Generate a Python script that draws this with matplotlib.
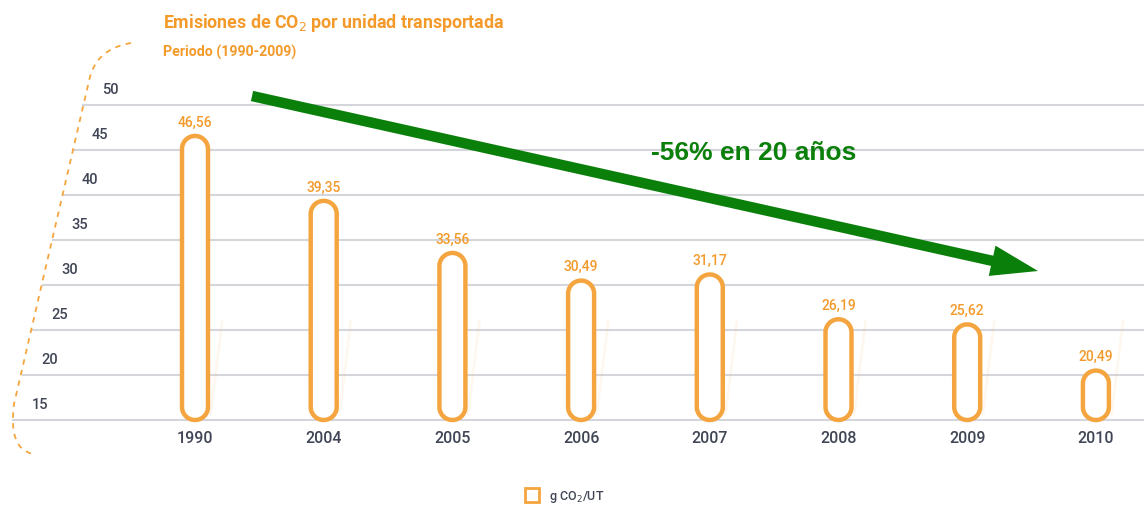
import matplotlib
matplotlib.use("Agg")
import matplotlib.pyplot as plt
from matplotlib.patches import FancyArrow, Polygon
from matplotlib.path import Path
from matplotlib.patches import PathPatch
from matplotlib.lines import Line2D
from matplotlib.transforms import blended_transform_factory
import numpy as np

# ---- data ----
years = ["1990", "2004", "2005", "2006", "2007", "2008", "2009", "2010"]
values = [46.56, 39.35, 33.56, 30.49, 31.17, 26.19, 25.62, 20.49]
value_labels = ["46,56", "39,35", "33,56", "30,49", "31,17", "26,19", "25,62", "20,49"]
y_ticks = [15, 20, 25, 30, 35, 40, 45, 50]
title = "Emisiones de CO$_2$ por unidad transportada"
subtitle = "Periodo (1990-2009)"
annotation = "-56% en 20 años"
legend_label = "g CO$_2$/UT"

ORANGE = "#f5a53f"
TXT_ORANGE = "#f39a2a"
GRAY_TXT = "#404555"
GRID = "#d4d6dc"
GREEN = "#0a7f0a"

W, H = 1144, 506
fig = plt.figure(figsize=(W / 100, H / 100), dpi=100)
fig.patch.set_facecolor("white")

base_px = 421.0    # pixel row of value 15
px_per_unit = 9.0
top_px = 60.0
ax = fig.add_axes([0, (H - base_px) / H, 1, (base_px - top_px) / H])
ax.set_facecolor("none")
x0_px, dx_px = 195.0, 128.7
ax.set_xlim(-x0_px / dx_px, (W - x0_px) / dx_px)
ax.set_ylim(15, 15 + (base_px - top_px) / px_per_unit)
for s in ax.spines.values():
    s.set_visible(False)
ax.set_yticks([])

fam = ["Roboto", "DejaVu Sans"]

# gridlines starting along a slanted left edge + tick labels
blend = blended_transform_factory(ax.transAxes, ax.transData)
for v in y_ticks:
    start_px = 13 + (v - 15) * 2.0
    ax.axhline(v, xmin=start_px / W, xmax=1, color=GRID, lw=1.5, zorder=1, clip_on=False)
    ax.text((start_px + 27) / W, v + 1.75, str(v), transform=blend, ha="center", va="center",
            fontsize=10.5, color=GRAY_TXT, family=fam, fontweight="medium")

# bars as pill-shaped outlines
xs = np.arange(len(years))
rx = 13 / dx_px                      # half width in x units
ry = rx * dx_px / px_per_unit        # same radius in y units
t = np.linspace(0, np.pi, 40)
for x, v, lab in zip(xs, values, value_labels):
    top = np.column_stack([x + rx * np.cos(t), (v - ry) + ry * np.sin(t)])
    bot = np.column_stack([x - rx * np.cos(t), (15 + ry) - ry * np.sin(t)])
    ax.add_patch(Polygon(np.vstack([top, bot]), closed=True, facecolor="white",
                         edgecolor=ORANGE, lw=3.2, zorder=3, clip_on=False))
    # faint reflection streak
    ax.plot([x + rx + 0.02, x + rx + 0.11], [15.6, 26], color=ORANGE,
            alpha=0.08, lw=2, zorder=2, solid_capstyle="round")
    ax.text(x, v + 1.6, lab, ha="center", va="center", fontsize=10, color=TXT_ORANGE,
            family=fam, fontweight="medium", zorder=4)

ax.set_xticks(xs)
ax.set_xticklabels(years, fontsize=11.5, color=GRAY_TXT, family=fam, fontweight="medium")
ax.tick_params(axis="x", length=0, pad=7)

# legend
handle = Line2D([], [], marker="s", ls="none", markersize=10, markerfacecolor="white",
                markeredgecolor=ORANGE, markeredgewidth=2)
leg = fig.legend([handle], [legend_label], loc="center", bbox_to_anchor=(562 / W, 1 - 497 / H),
                 frameon=False, handletextpad=0.4, labelcolor=GRAY_TXT,
                 prop={"family": fam, "size": 9, "weight": "medium"})

# overlay for decorations (pixel coordinates)
ov = fig.add_axes([0, 0, 1, 1], zorder=5)
ov.set_xlim(0, W)
ov.set_ylim(H, 0)
ov.axis("off")

verts = [(131, 44), (95, 50), (89, 82), (14, 405), (8, 450), (33, 455)]
codes = [Path.MOVETO, Path.CURVE3, Path.CURVE3, Path.LINETO, Path.CURVE3, Path.CURVE3]
ov.add_patch(PathPatch(Path(verts, codes), facecolor="none", edgecolor=ORANGE, lw=1.3,
                       ls=(0, (3, 3))))

ov.add_patch(FancyArrow(252, 97, 1038 - 252, 272 - 97, width=10.5, head_width=31,
                        head_length=47, length_includes_head=True, color=GREEN, lw=0))
ov.text(754, 153, annotation, ha="center", va="center", fontsize=19, fontweight="bold",
        color=GREEN, family=["Liberation Sans", "DejaVu Sans"])

fig.text(163 / W, 1 - 23 / H, title, ha="left", va="center", fontsize=12.8,
         color=TXT_ORANGE, family=fam, fontweight="bold")
fig.text(163 / W, 1 - 52 / H, subtitle, ha="left", va="center", fontsize=10.2,
         color=TXT_ORANGE, family=fam, fontweight="bold")

fig.savefig("out.png", dpi=100, facecolor="white")
